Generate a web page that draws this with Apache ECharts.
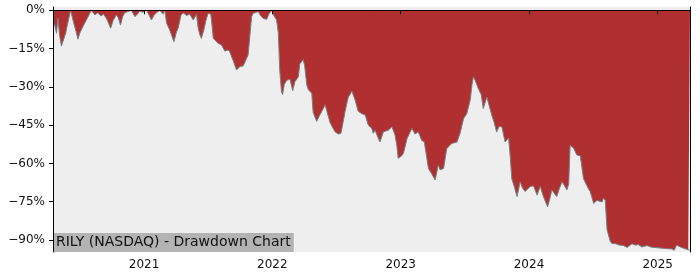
<!DOCTYPE html>
<html>
<head>
<meta charset="utf-8">
<script src="https://cdn.jsdelivr.net/npm/echarts@6/dist/echarts.min.js"></script>
<style>
html,body{margin:0;padding:0;background:#fff;}
#chart{width:700px;height:280px;}
</style>
</head>
<body>
<div id="chart"></div>
<script>
const titleText = 'RILY (NASDAQ) - Drawdown Chart';
const yTicks = [0, -15, -30, -45, -60, -75, -90];
const xTickYears = [2021, 2022, 2023, 2024, 2025];
const dates = [
'2020-04-17','2020-04-22','2020-04-27','2020-05-01','2020-05-06','2020-05-11','2020-05-15','2020-05-23','2020-05-29','2020-06-06',
'2020-06-15','2020-06-22','2020-06-27','2020-07-02','2020-07-11','2020-07-22','2020-08-04','2020-08-14','2020-08-22','2020-08-31',
'2020-09-08','2020-09-16','2020-09-22','2020-09-28','2020-10-05','2020-10-14','2020-10-20','2020-10-26','2020-11-01','2020-11-07',
'2020-11-16','2020-11-26','2020-12-06','2020-12-13','2020-12-20','2020-12-28','2021-01-08','2021-01-14','2021-01-22','2021-01-29',
'2021-02-05','2021-02-15','2021-02-24','2021-03-01','2021-03-06','2021-03-15','2021-03-21','2021-03-27','2021-04-03','2021-04-08',
'2021-04-16','2021-04-22','2021-05-02','2021-05-11','2021-05-21','2021-05-30','2021-06-04','2021-06-09','2021-06-13','2021-06-20',
'2021-06-26','2021-07-02','2021-07-10','2021-07-17','2021-07-24','2021-07-31','2021-08-09','2021-08-19','2021-08-28','2021-09-02',
'2021-09-08','2021-09-15','2021-09-21','2021-10-01','2021-10-10','2021-10-15','2021-10-24','2021-10-29','2021-11-03','2021-11-07',
'2021-11-12','2021-11-22','2021-11-27','2021-12-06','2021-12-16','2021-12-22','2021-12-30','2022-01-05','2022-01-13','2022-01-18',
'2022-01-22','2022-01-27','2022-01-30','2022-02-04','2022-02-11','2022-02-20','2022-02-28','2022-03-06','2022-03-16','2022-03-20',
'2022-03-30','2022-04-03','2022-04-09','2022-04-13','2022-04-23','2022-04-27','2022-05-07','2022-05-11','2022-05-16','2022-05-26',
'2022-05-31','2022-06-04','2022-06-14','2022-06-28','2022-07-08','2022-07-15','2022-07-21','2022-07-27','2022-08-05','2022-08-10',
'2022-08-15','2022-08-24','2022-09-02','2022-09-12','2022-09-22','2022-10-01','2022-10-11','2022-10-15','2022-10-20','2022-10-29',
'2022-11-03','2022-11-13','2022-11-27','2022-12-07','2022-12-16','2022-12-21','2022-12-25','2022-12-30','2023-01-04','2023-01-09',
'2023-01-19','2023-01-25','2023-02-02','2023-02-11','2023-02-20','2023-03-02','2023-03-09','2023-03-16','2023-03-21','2023-03-30',
'2023-04-09','2023-04-18','2023-04-23','2023-05-03','2023-05-12','2023-05-26','2023-06-10','2023-06-19','2023-06-29','2023-07-08',
'2023-07-18','2023-07-23','2023-07-27','2023-08-01','2023-08-10','2023-08-18','2023-08-24','2023-09-03','2023-09-09','2023-09-17',
'2023-09-24','2023-10-01','2023-10-08','2023-10-16','2023-10-25','2023-11-04','2023-11-09','2023-11-13','2023-11-20','2023-11-28',
'2023-12-07','2023-12-13','2023-12-21','2023-12-28','2024-01-05','2024-01-14','2024-01-24','2024-02-02','2024-02-11','2024-02-23',
'2024-02-29','2024-03-06','2024-03-20','2024-03-27','2024-04-04','2024-04-10','2024-04-18','2024-04-23','2024-04-27','2024-05-07',
'2024-05-12','2024-05-16','2024-05-26','2024-06-04','2024-06-18','2024-06-23','2024-07-03','2024-07-12','2024-07-27','2024-07-31',
'2024-08-05','2024-08-10','2024-08-14','2024-08-19','2024-08-24','2024-09-02','2024-09-14','2024-09-26','2024-10-06','2024-10-10',
'2024-10-20','2024-10-29','2024-11-07','2024-11-17','2024-12-02','2024-12-14','2024-12-30','2025-01-12','2025-01-28','2025-02-11',
'2025-02-17','2025-02-20','2025-02-24','2025-03-06','2025-03-17','2025-03-29','2025-04-03'
];
const drawdown = [
-4.5,-6,-9,-3,-10,-14,-13.5,-9,-5,0,
-5,-8.5,-11.3,-9,-6.4,-3.5,0,-1.8,-1,-2.2,
-1.5,-3.2,-5,-7,-4,-1.8,-3,-5.8,-2.5,-1,
-0.5,0,-2.5,-1.5,-0.3,-0.8,0,-1.5,-3.8,-2,
-1,0,-1.5,0,-5,-7.7,-10,-12.3,-8.5,-7,
-2,-1,-2,-1.5,-3.8,-1.5,-7,-9.7,-11,-7.7,
-4,-1.2,-1.5,-11,-12,-13,-13.5,-16,-15.5,-16.3,
-18.5,-21,-23.4,-22,-21.8,-21.4,-17.5,-10,-2.5,-1.2,
-0.6,-0.5,-1.8,-3.2,-3.5,-1.5,0,-2,-3.8,-9,
-23.5,-32,-33,-29,-27.4,-27,-31.5,-28,-26,-21,
-19.3,-22,-29.3,-31,-32.5,-40,-43.5,-42.4,-41,-38.5,
-37,-37.5,-44,-47.6,-48.5,-48.2,-44,-39.5,-34,-33,
-31.6,-35,-39.5,-40.5,-41,-45,-46.3,-48.2,-47,-50,
-51.6,-47.6,-47,-45.6,-48.9,-53,-58,-58.6,-57,-56,
-50.3,-48.5,-46.3,-48.5,-47.6,-51,-51.5,-57.5,-62,-64,
-66.5,-60.6,-62.5,-62,-54.2,-52.2,-51.6,-48.2,-42.4,-40.5,
-35,-29,-26,-27.5,-30.7,-33,-38.5,-34,-37,-41,
-44,-47.7,-45.5,-45.7,-51.6,-50,-58,-66,-69,-73,
-67.2,-69.5,-71,-70,-69,-68.8,-72.4,-69,-73,-77,
-74,-70.4,-73,-70,-67.2,-68.5,-70.4,-68,-52.9,-54,
-54.7,-56.7,-57,-66,-69.9,-71,-75.7,-74.5,-75.1,-73.5,
-74.5,-86,-88,-90.5,-91.4,-91.4,-92,-92.2,-92.9,-93.4,
-91.5,-92,-91.8,-92.7,-92.2,-92.8,-93,-93.2,-93.4,-93.5,
-94,-94.4,-92,-92.7,-93.3,-93.8,-94
];

function toTs(s) {
  const p = s.split('-').map(Number);
  return Date.UTC(p[0], p[1] - 1, p[2]);
}
const seriesData = dates.map((d, i) => [toTs(d), drawdown[i]]);
const yearTicks = xTickYears.map(y => Date.UTC(y, 0, 1));
const font = 'DejaVu Sans';
const xMin = toTs(dates[0]);
const xMax = toTs(dates[dates.length - 1]);
const yMin = -94.7, yMax = 1.3;
const frameAxis = {show: true, lineStyle: {color: '#000', width: 1}};

const chart = echarts.init(document.getElementById('chart'), null, {renderer: 'canvas'});
chart.setOption({
  animation: false,
  backgroundColor: '#ffffff',
  title: {
    text: titleText,
    left: 53,
    top: 233,
    padding: [1, 3, 2, 3],
    backgroundColor: '#b3b3b3',
    textStyle: {fontFamily: font, fontSize: 14, fontWeight: 'normal', color: '#111', lineHeight: 16}
  },
  grid: {
    left: 53, right: 10, top: 7, bottom: 28,
    show: true, backgroundColor: '#eeeeee', borderColor: '#000', borderWidth: 0
  },
  xAxis: [{
    type: 'value',
    min: xMin, max: xMax, z: 10,
    splitLine: {show: false},
    axisLine: frameAxis,
    axisTick: {show: true, length: 4, lineStyle: {color: '#000'}, customValues: yearTicks},
    axisLabel: {
      customValues: yearTicks,
      formatter: v => String(new Date(v).getUTCFullYear()),
      fontFamily: font, fontSize: 12, color: '#111', margin: 7
    }
  }, {
    type: 'value', position: 'top',
    min: xMin, max: xMax, z: 10,
    splitLine: {show: false}, axisLine: frameAxis,
    axisTick: {show: false}, axisLabel: {show: false}
  }],
  yAxis: [{
    type: 'value',
    min: yMin, max: yMax, z: 10,
    splitLine: {show: false},
    axisLine: frameAxis,
    axisTick: {show: true, length: 4, lineStyle: {color: '#000'}, customValues: yTicks},
    axisLabel: {
      customValues: yTicks,
      formatter: v => (v < 0 ? '\u2212' : '') + Math.abs(v) + '%',
      fontFamily: font, fontSize: 12, color: '#111', margin: 8
    }
  }, {
    type: 'value', position: 'right',
    min: yMin, max: yMax, z: 10,
    splitLine: {show: false}, axisLine: frameAxis,
    axisTick: {show: false}, axisLabel: {show: false}
  }],
  series: [{
    type: 'line',
    data: seriesData,
    showSymbol: false,
    symbol: 'none',
    lineStyle: {color: '#7a8080', width: 1},
    areaStyle: {color: '#b03031', opacity: 1, origin: 0}
  }]
});
</script>
</body>
</html>
